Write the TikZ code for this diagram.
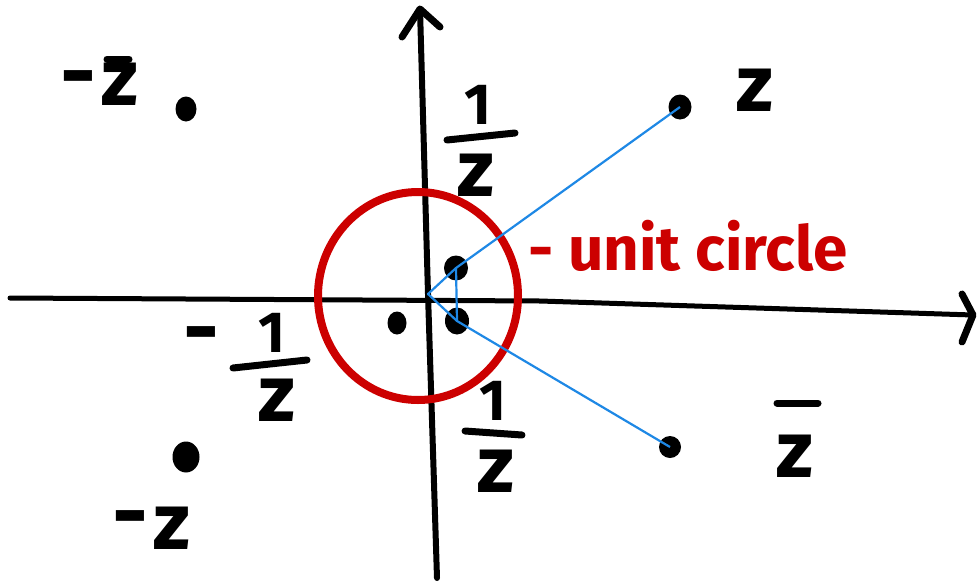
\documentclass[tikz,border=0pt]{standalone}
\usepackage{fontspec}
\setmainfont{Fira Sans}
\definecolor{inkred}{HTML}{CC0000}
\definecolor{inkblue}{HTML}{1E88E5}
\begin{document}
\begin{tikzpicture}[x=1pt,y=-1pt,
  axisline/.style={line width=5pt,line cap=round,line join=round},
  arrowink/.style={line width=7pt,line cap=round,line join=round},
  zlab/.style={font=\fontsize{80}{80}\selectfont\bfseries,inner sep=0pt},
  onelab/.style={font=\fontsize{58}{58}\selectfont\bfseries,inner sep=0pt},
  minuslab/.style={font=\fontsize{88}{88}\selectfont\bfseries,inner sep=0pt},
  barline/.style={line width=7pt,line cap=round},
  blueline/.style={draw=inkblue,line width=2.2pt,line join=round},
  redlab/.style={font=\fontsize{62}{62}\selectfont\bfseries,text=inkred,inner sep=0pt}]
\useasboundingbox (0,0) rectangle (980,584);
% axes
\coordinate (xl) at (10,298);
\coordinate (xm) at (540,301);
\coordinate (xr) at (973,315);
\coordinate (yb) at (437,578);
\coordinate (ym) at (428,294);
\coordinate (yt) at (420,9);
\draw[axisline] (xl) -- (xm) -- (xr);
\draw[arrowink] (962,294) -- (xr) -- (962,342);
\draw[axisline,line width=6pt] (yb) -- (ym) -- (yt);
\draw[arrowink] (402,37) -- (yt) -- (440,27);
% unit circle
\draw[inkred,line width=8pt] (418,296) ellipse [x radius=100, y radius=104];
\node[redlab,anchor=base west] (uc) at (528,270) {- unit circle};
% dots
\coordinate (ntl) at (186,109);
\coordinate (ntr) at (680,107);
\coordinate (nup) at (456,268);
\coordinate (nlo) at (457,321);
\coordinate (nle) at (397,323);
\coordinate (nbr) at (670,447);
\coordinate (nbl) at (186,457);
\fill (ntl) ellipse [x radius=10.5, y radius=12.5];
\fill (ntr) ellipse [x radius=11.5, y radius=12.5];
\fill (nup) ellipse [x radius=12, y radius=12.5];
\fill (nlo) ellipse [x radius=12, y radius=13.5];
\fill (nle) ellipse [x radius=9.5, y radius=11.5];
\fill (nbr) ellipse [x radius=11, y radius=11];
\fill (nbl) ellipse [x radius=13.5, y radius=15.5];
% blue connectors
\coordinate (o) at (428,294);
\draw[blueline] (ntr) -- (nup) -- (o) -- (nlo) -- (nbr);
\draw[blueline] (nup) -- (nlo);
% labels
\node[zlab] (lz) at (755,90) {z};
\node[zlab] (lzb) at (795,456) {z};
\draw[barline] (777,403) -- (818,403);
\node[minuslab] (mtl) at (78,87) {-};
\node[zlab] (ltl) at (120,84) {z};
\draw[barline] (107,59) -- (129,59);
\node[minuslab] (mbl) at (130,527) {-};
\node[zlab] (lbl) at (172,528) {z};
% upper 1/z
\node[onelab] (o1) at (478,105) {1};
\draw[barline] (447,140) -- (515,133);
\node[zlab] (z1) at (476,175) {z};
% lower 1/z
\node[onelab] (o2) at (493,401) {1};
\draw[barline] (465,431) -- (522,435);
\node[zlab] (z2) at (496,471) {z};
% -1/z
\node[minuslab] (m3) at (201,343) {-};
\node[onelab] (o3) at (272,333) {1};
\draw[barline] (233,368) -- (307,360);
\node[zlab] (z3) at (277,400) {z};
\end{tikzpicture}
\end{document}
